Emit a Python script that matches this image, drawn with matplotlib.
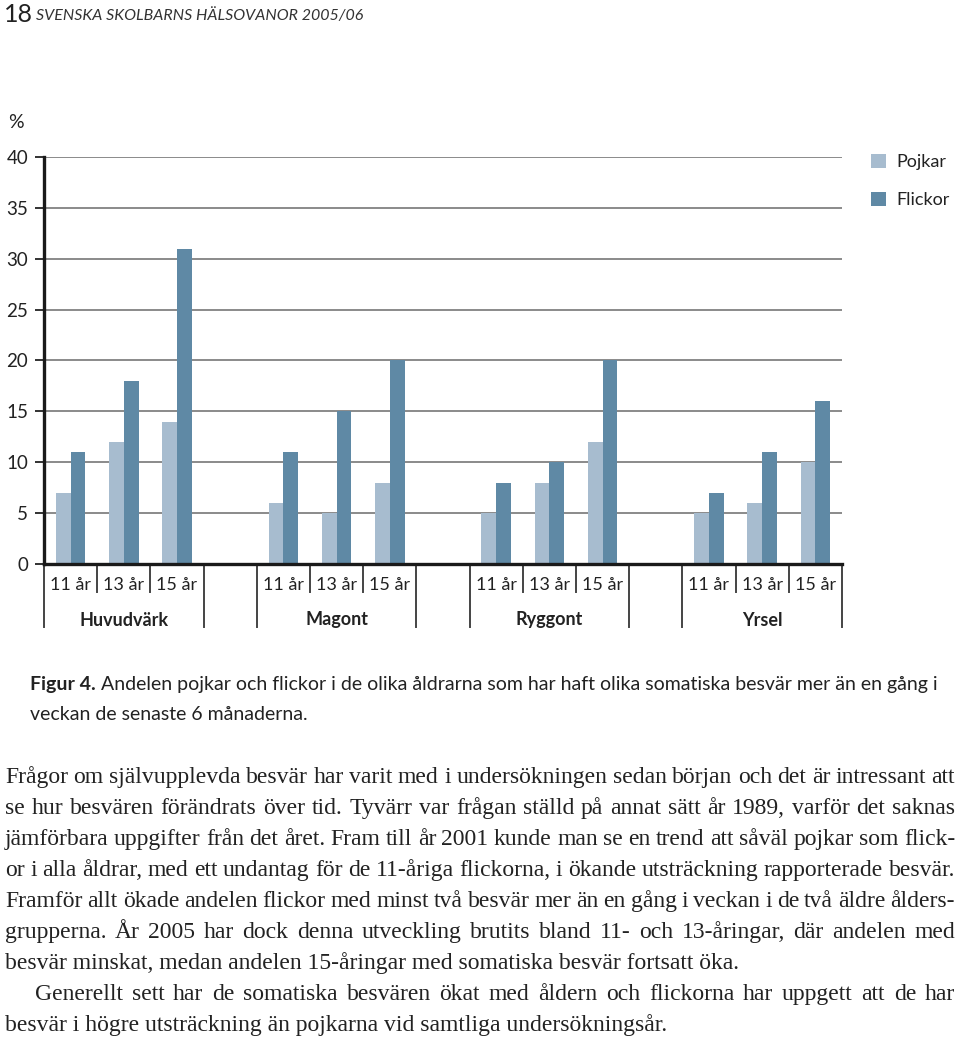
import matplotlib
matplotlib.use("Agg")
import matplotlib.pyplot as plt
import matplotlib.transforms as mtransforms

# ---------------- data ----------------
groups = ["Huvudvärk", "Magont", "Ryggont", "Yrsel"]
ages = ["11 år", "13 år", "15 år"]
pojkar = [[7, 12, 14], [6, 5, 8], [5, 8, 12], [5, 6, 10]]
flickor = [[11, 18, 31], [11, 15, 20], [8, 10, 20], [7, 11, 16]]
series_names = ["Pojkar", "Flickor"]
yticks = [0, 5, 10, 15, 20, 25, 30, 35, 40]

header_num = "18"
header_title = "SVENSKA SKOLBARNS HÄLSOVANOR 2005/06"
caption_bold = "Figur 4."
caption_lines = [
    " Andelen pojkar och flickor i de olika åldrarna som har haft olika somatiska besvär mer än en gång i",
    "veckan de senaste 6 månaderna.",
]
body_lines = [
    ("Frågor om självupplevda besvär har varit med i undersökningen sedan början och det är intressant att", True, False),
    ("se hur besvären förändrats över tid. Tyvärr var frågan ställd på annat sätt år 1989, varför det saknas", True, False),
    ("jämförbara uppgifter från det året. Fram till år 2001 kunde man se en trend att såväl pojkar som flick-", True, False),
    ("or i alla åldrar, med ett undantag för de 11-åriga flickorna, i ökande utsträckning rapporterade besvär.", True, False),
    ("Framför allt ökade andelen flickor med minst två besvär mer än en gång i veckan i de två äldre ålders-", True, False),
    ("grupperna. År 2005 har dock denna utveckling brutits bland 11- och 13-åringar, där andelen med", True, False),
    ("besvär minskat, medan andelen 15-åringar med somatiska besvär fortsatt öka.", False, False),
    ("Generellt sett har de somatiska besvären ökat med åldern och flickorna har uppgett att de har", True, True),
    ("besvär i högre utsträckning än pojkarna vid samtliga undersökningsår.", False, False),
]

# ---------------- style ----------------
C_POJ = "#a7bccf"
C_FLI = "#5f89a5"
W, H = 960, 1038
SANS = ["Lato", "DejaVu Sans"]
SERIF = ["Liberation Serif", "DejaVu Serif"]

def fx(px):
    return px / W

def fy(py):
    return 1 - py / H

fig = plt.figure(figsize=(W / 100, H / 100), dpi=100)
ax = fig.add_axes([fx(44), fy(564), (842 - 44) / W, (564 - 157) / H])

n_groups = len(groups)
slot = 4  # 3 age slots + 1 gap slot
bw = 0.28
for g in range(n_groups):
    xs = [g * slot + a for a in range(len(ages))]
    ax.bar([x - bw / 2 for x in xs], pojkar[g], width=bw, color=C_POJ, zorder=3,
           label=series_names[0] if g == 0 else None)
    ax.bar([x + bw / 2 for x in xs], flickor[g], width=bw, color=C_FLI, zorder=3,
           label=series_names[1] if g == 0 else None)

ax.set_xlim(-0.5, n_groups * slot - 1.5)
ax.set_ylim(0, 40)
ax.set_yticks(yticks)
ax.set_yticklabels([str(v) for v in yticks], family=SANS, fontsize=13.5, color="#222")
ax.tick_params(axis="y", length=6.5, width=1.3, pad=5, color="#222")
ax.set_xticks([])
for v in yticks[1:]:
    ax.axhline(v, color="#8a8a8a", lw=1.4, zorder=1)
for s in ["top", "right"]:
    ax.spines[s].set_visible(False)
for s in ["left", "bottom"]:
    ax.spines[s].set_linewidth(2.4)
    ax.spines[s].set_color("#1a1a1a")
    ax.spines[s].set_zorder(5)

trans = mtransforms.blended_transform_factory(ax.transData, ax.transAxes)
short_y = -(592 - 564) / 407
long_y = -(627 - 564) / 407
for g in range(n_groups):
    base = g * slot
    for b in [base - 0.5, base + 2.5]:
        ax.plot([b, b], [0, long_y], transform=trans, color="#444", lw=1.4, clip_on=False)
    for b in [base + 0.5, base + 1.5]:
        ax.plot([b, b], [0, short_y], transform=trans, color="#444", lw=1.4, clip_on=False)
    for a, lab in enumerate(ages):
        ax.text(base + a, -(585 - 564) / 407, lab, transform=trans, ha="center", va="center",
                family=SANS, fontsize=13, color="#222")
    ax.text(base + 1, -(620 - 564) / 407, groups[g], transform=trans, ha="center", va="center",
            family=SANS, fontsize=13, fontweight="bold", color="#222")

leg = ax.legend(loc="upper left", bbox_to_anchor=(fx(864), fy(147)), bbox_transform=fig.transFigure,
                frameon=False, handlelength=0.8, handleheight=0.8, handletextpad=0.6,
                labelspacing=1.2, borderaxespad=0, prop={"family": SANS, "size": 13})
for t in leg.get_texts():
    t.set_color("#222")

fig.text(fx(8), fy(122), "%", family=SANS, fontsize=14, ha="left", va="center", color="#222")

# header
fig.text(fx(4), fy(14), header_num, family=SANS, fontsize=18, ha="left", va="center", color="#222")
fig.text(fx(36), fy(16), header_title, family=SANS, fontsize=11.5, style="italic",
         ha="left", va="center", color="#333")

# caption
CAP_FS = 14
cb = fig.text(fx(30), fy(690), caption_bold, family=SANS, fontsize=CAP_FS, fontweight="bold",
              ha="left", va="baseline", color="#222")
fig.canvas.draw()
renderer = fig.canvas.get_renderer()
bb = cb.get_window_extent(renderer)
fig.text(bb.x1 / W, fy(690), caption_lines[0], family=SANS, fontsize=CAP_FS,
         ha="left", va="baseline", color="#222")
fig.text(fx(30), fy(720), caption_lines[1], family=SANS, fontsize=CAP_FS,
         ha="left", va="baseline", color="#222")

# body text, justified
BODY_FS = 17
x_left, x_right = 5, 955
indent = 35
for i, (line, justify, ind) in enumerate(body_lines):
    yb = 783 + 31 * i
    x0 = indent if ind else x_left
    words = line.split(" ")
    if not justify:
        fig.text(fx(x0), fy(yb), line, family=SERIF, fontsize=BODY_FS, ha="left",
                 va="baseline", color="#222")
        continue
    arts = [fig.text(0, fy(yb), w_, family=SERIF, fontsize=BODY_FS, ha="left",
                     va="baseline", color="#222") for w_ in words]
    widths = [a.get_window_extent(renderer).width for a in arts]
    gap = (x_right - x0 - sum(widths)) / (len(words) - 1)
    xpos = x0
    for a, wd in zip(arts, widths):
        a.set_x(fx(xpos))
        xpos += wd + gap

fig.savefig("out.png", dpi=100, facecolor="white")
